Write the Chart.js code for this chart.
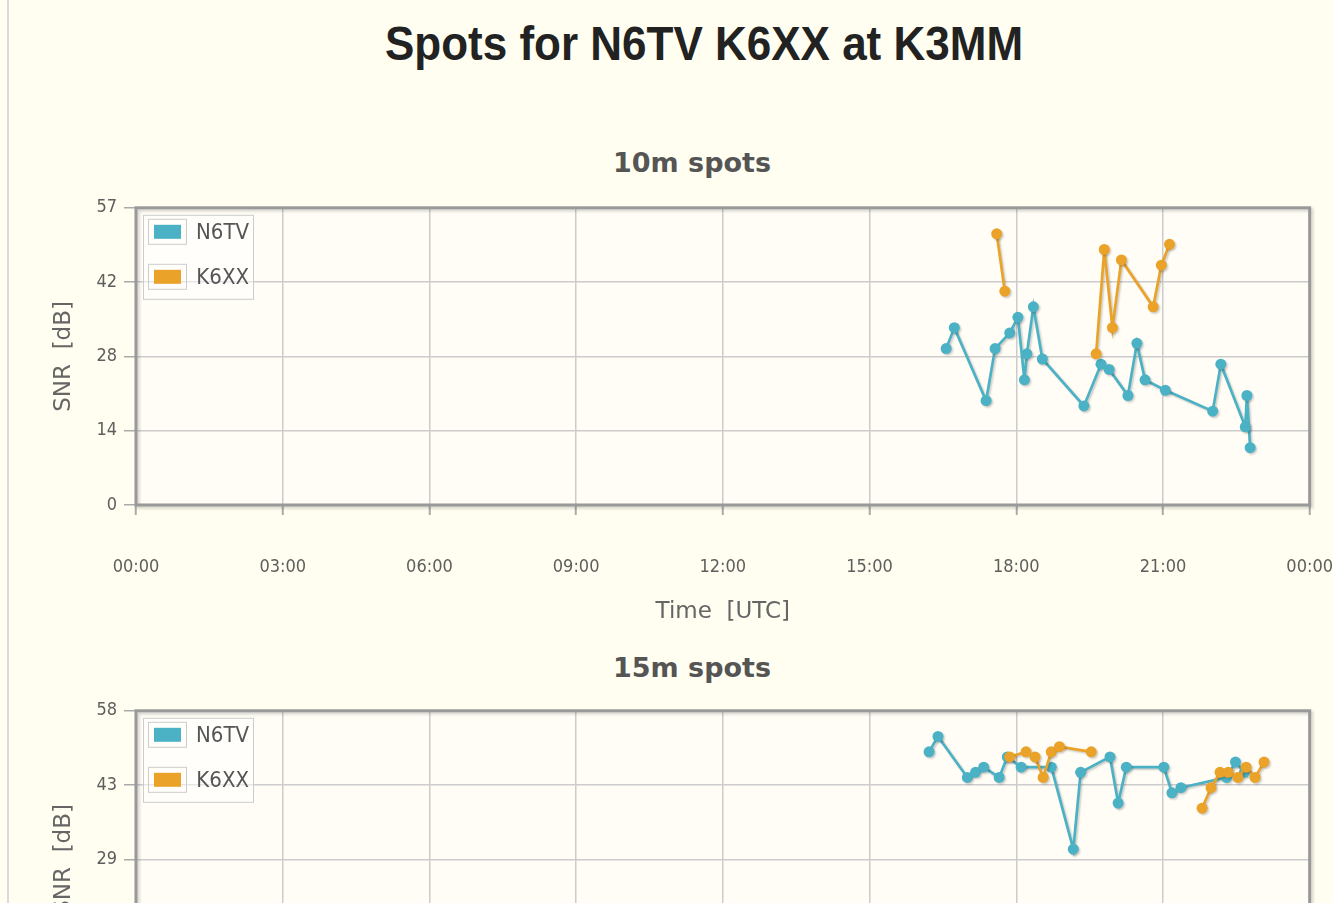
<!DOCTYPE html>
<html lang="en">
<head>
<meta charset="UTF-8">
<title>Spots for N6TV K6XX at K3MM</title>
<style>
    html, body {
        margin: 0;
        padding: 0;
    }
    body {
        position: relative;
        width: 1333px;
        height: 903px;
        overflow: hidden;
        background-color: #fffef0;
        font-family: "DejaVu Sans", sans-serif;
    }
    .rule {
        position: absolute;
        left: 7px;
        top: 0;
        width: 2px;
        height: 903px;
        background-color: #d9d9d9;
    }
    h1 {
        position: absolute;
        left: 704px;
        top: 18px;
        margin: 0;
        transform: translateX(-50%) scaleY(1.1);
        font: bold 44px/50px "Liberation Sans", Arial, sans-serif;
        color: #222;
        white-space: nowrap;
    }
    h2 {
        position: absolute;
        left: 692px;
        margin: 0;
        transform: translateX(-50%);
        font: bold 27px/32px "DejaVu Sans", sans-serif;
        color: #555;
        white-space: nowrap;
    }
    canvas {
        position: absolute;
        left: 0;
    }
</style>
</head>
<body>
    <div class="rule"></div>
    <h1>Spots for N6TV K6XX at K3MM</h1>

    <h2 style="top:147px">10m spots</h2>
    <canvas id="chart10" width="1375" height="436" style="top:190px"></canvas>

    <h2 style="top:652px">15m spots</h2>
    <canvas id="chart15" width="1375" height="436" style="top:693px"></canvas>

    <script src="https://cdn.jsdelivr.net/npm/chart.js"></script>
    <script>
        // x axis, 0..24 h UTC
        const timeLabels = ['00:00', '03:00', '06:00', '09:00', '12:00', '15:00', '18:00', '21:00', '00:00'];
        const seriesNames = ['N6TV', 'K6XX'];
        const seriesColors = ['#4bb2c5', '#eaa228'];

        // 10m band
        const n6tv10Times = ['16:34', '16:44', '17:23', '17:34', '17:52', '18:02', '18:10', '18:13', '18:21', '18:32', '19:23',
                             '19:44', '19:54', '20:17', '20:28', '20:38', '21:03', '22:01', '22:11', '22:41', '22:43', '22:47'];
        const n6tv10Snr = [30, 34, 20, 30, 33, 36, 24, 29, 38, 28, 19, 27, 26, 21, 31, 24, 22, 18, 27, 15, 21, 11];
        const k6xx10Times = ['17:36', '17:46', '19:38', '19:48', '19:58', '20:09', '20:48', '20:58', '21:08'];
        const k6xx10Snr = [52, 41, 29, 49, 34, 47, 38, 46, 50];
        const snrMax10 = 57;
        const snrTicks10 = ['0', '14', '28', '42', '57'];

        // 15m band
        const n6tv15Times = ['16:13', '16:24', '17:00', '17:10', '17:20', '17:39', '17:49', '18:06', '18:43', '19:10',
                             '19:19', '19:55', '20:05', '20:15', '21:01', '21:11', '21:22', '22:18', '22:29', '22:40'];
        const n6tv15Snr = [50, 53, 45, 46, 47, 45, 49, 47, 47, 31, 46, 49, 40, 47, 47, 42, 43, 45, 48, 46];
        const k6xx15Times = ['17:52', '18:12', '18:23', '18:33', '18:43', '18:53', '19:32', '21:48', '21:59', '22:10',
                             '22:20', '22:32', '22:42', '22:53', '23:04'];
        const k6xx15Snr = [49, 50, 49, 45, 50, 51, 50, 39, 43, 46, 46, 45, 47, 45, 48];
        const snrMax15 = 58;
        const snrTicks15 = ['0', '14', '29', '43', '58'];

        // no line is drawn across a pause longer than this
        const maxGapMinutes = 90;

        const tickFont = { family: '"DejaVu Sans Condensed", "DejaVu Sans", sans-serif', size: 18 };
        const axisTitleFont = { family: '"DejaVu Sans", sans-serif', size: 23 };

        function toHours(hhmm) {
            const parts = hhmm.split(':').map(Number);
            return parts[0] + parts[1] / 60;
        }

        function makeSeries(index, times, snr) {
            const color = seriesColors[index];
            return {
                label: seriesNames[index],
                data: times.map((t, i) => ({ x: toHours(t), y: snr[i] })),
                order: 1 - index,
                borderColor: color,
                backgroundColor: color,
                pointBackgroundColor: color,
                borderWidth: 2.7,
                pointRadius: 5.5,
                pointHoverRadius: 5.5,
                pointBorderWidth: 0,
                tension: 0,
                segment: {
                    borderColor: c => (c.p1.parsed.x - c.p0.parsed.x) * 60 > maxGapMinutes ? 'transparent' : undefined
                }
            };
        }

        function drawLegend(chart) {
            const ctx = chart.ctx;
            const a = chart.chartArea;
            const x = a.left + 7, y = a.top + 7;
            ctx.save();
            ctx.fillStyle = 'rgba(255, 255, 255, 0.5)';
            ctx.fillRect(x, y, 110, 84);
            ctx.strokeStyle = '#cccccc';
            ctx.lineWidth = 1;
            ctx.strokeRect(x + 0.5, y + 0.5, 110, 84);
            chart.data.datasets.forEach((ds, i) => {
                const cy = y + 17 + i * 45;
                ctx.strokeStyle = '#cccccc';
                ctx.strokeRect(x + 5.5, cy - 12.5, 38, 25);
                ctx.fillStyle = ds.borderColor;
                ctx.fillRect(x + 11, cy - 7, 27, 14);
                ctx.fillStyle = '#555';
                ctx.font = '22px "DejaVu Sans Condensed", "DejaVu Sans", sans-serif';
                ctx.textAlign = 'right';
                ctx.textBaseline = 'middle';
                ctx.fillText(ds.label, x + 106, cy + 1);
            });
            ctx.restore();
        }

        // plot background, framed border, shadows and the inset legend
        const plotDecor = {
            id: 'plotDecor',
            beforeDraw(chart) {
                const a = chart.chartArea;
                chart.ctx.save();
                chart.ctx.fillStyle = '#fffdf6';
                chart.ctx.fillRect(a.left, a.top, a.width, a.height);
                chart.ctx.restore();
            },
            beforeDatasetsDraw(chart) {
                const ctx = chart.ctx;
                const a = chart.chartArea;
                ctx.save();
                ctx.shadowColor = 'rgba(0, 0, 0, 0.18)';
                ctx.shadowOffsetX = 2;
                ctx.shadowOffsetY = 2;
                ctx.shadowBlur = 3;
                ctx.strokeStyle = '#999999';
                ctx.lineWidth = 3;
                ctx.strokeRect(a.left, a.top, a.width, a.height);
                ctx.restore();

                ctx.save();
                ctx.shadowColor = 'rgba(0, 0, 0, 0.2)';
                ctx.shadowOffsetX = 1.5;
                ctx.shadowOffsetY = 1.5;
                ctx.shadowBlur = 2;
            },
            afterDatasetsDraw(chart) {
                chart.ctx.restore();
            },
            afterDraw(chart) {
                drawLegend(chart);
            }
        };

        function makeChart(canvasId, series, snrMax, snrTicks) {
            return new Chart(document.getElementById(canvasId), {
                type: 'line',
                data: { datasets: series },
                plugins: [plotDecor],
                options: {
                    responsive: false,
                    animation: false,
                    layout: { padding: { left: 50, right: 30, top: 16, bottom: 0 } },
                    plugins: {
                        legend: { display: false },
                        title: { display: false },
                        tooltip: { enabled: false }
                    },
                    scales: {
                        x: {
                            type: 'linear',
                            min: 0,
                            max: 24,
                            afterFit: s => { s.height = 121; },
                            border: { display: false },
                            grid: { color: '#cccccc', lineWidth: 1.5, tickLength: 10, tickColor: '#aaaaaa', tickWidth: 2 },
                            ticks: {
                                stepSize: 3,
                                autoSkip: false,
                                maxRotation: 0,
                                padding: 42,
                                color: '#5e5e5e',
                                font: tickFont,
                                callback: v => timeLabels[Math.round(v / 3)]
                            },
                            title: { display: true, text: 'Time  [UTC]', color: '#666', font: axisTitleFont, padding: 0 }
                        },
                        y: {
                            min: 0,
                            max: snrMax,
                            afterFit: s => { s.width = 86; },
                            border: { display: false },
                            grid: { color: '#cccccc', lineWidth: 1.5, tickLength: 12, tickColor: '#aaaaaa', tickWidth: 1.5 },
                            ticks: {
                                stepSize: snrMax / 4,
                                padding: 7,
                                color: '#5e5e5e',
                                font: tickFont,
                                callback: (v, i) => snrTicks[i]
                            },
                            title: { display: true, text: 'SNR  [dB]', color: '#666', font: axisTitleFont, padding: 0 }
                        }
                    }
                }
            });
        }

        makeChart('chart10', [makeSeries(0, n6tv10Times, n6tv10Snr), makeSeries(1, k6xx10Times, k6xx10Snr)], snrMax10, snrTicks10);
        makeChart('chart15', [makeSeries(0, n6tv15Times, n6tv15Snr), makeSeries(1, k6xx15Times, k6xx15Snr)], snrMax15, snrTicks15);
    </script>
</body>
</html>
